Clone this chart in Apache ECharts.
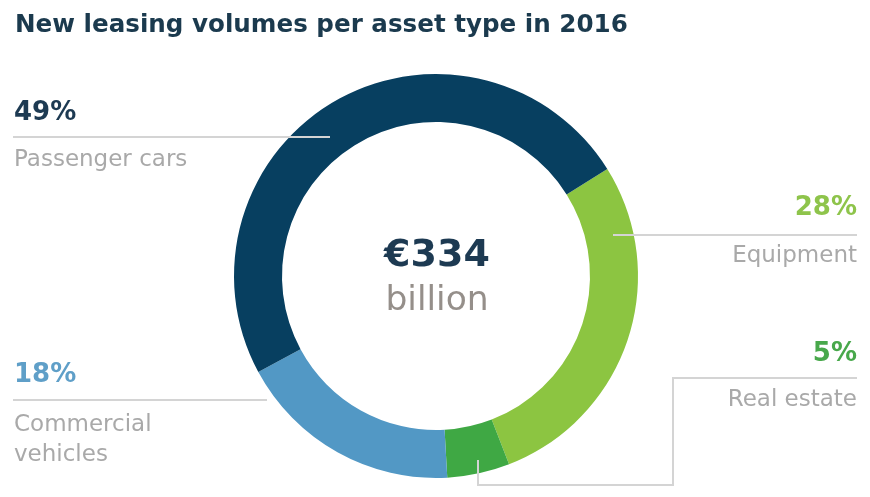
<!DOCTYPE html>
<html>
<head>
<meta charset="utf-8">
<script src="https://cdn.jsdelivr.net/npm/echarts@6/dist/echarts.min.js"></script>
<style>
html,body{margin:0;padding:0;background:#fff;}
#c{width:870px;height:497px;}
</style>
</head>
<body>
<div id="c"></div>
<script>
const titleText = 'New leasing volumes per asset type in 2016';
const categories = ['Equipment', 'Real estate', 'Commercial vehicles', 'Passenger cars'];
const shares = [28, 5, 18, 49];
const totalLabel = '€334';
const totalUnit = 'billion';

const colors = ['#8cc541', '#3fa844', '#5298c5', '#073f60'];
const pctColors = ['#8ec44b', '#48a84b', '#5f9fc8', '#1d3a52'];
const FONT = '"DejaVu Sans", "Noto Sans", sans-serif';
const gray = '#a9a9a9';
const lineColor = '#d4d4d4';

const chart = echarts.init(document.getElementById('c'), null, {renderer: 'canvas'});

function txt(x, y, text, size, weight, fill, align) {
  return {
    type: 'text', x: x, y: y, z: 110,
    style: {text: text, font: weight + ' ' + size + 'px ' + FONT, fill: fill,
            align: align, verticalAlign: 'middle'}
  };
}
function line(points) {
  return {
    type: 'polyline', z: 100,
    shape: {points: points},
    style: {stroke: lineColor, lineWidth: 2, fill: null}
  };
}

const commercialParts = categories[2].split(' ');

chart.setOption({
  animation: false,
  title: {
    text: titleText, left: 10, top: 8,
    textStyle: {fontFamily: FONT, fontWeight: 'bold', fontSize: 24.6, color: '#1b3a4e'}
  },
  series: [{
    type: 'pie',
    center: [436, 276],
    radius: [154, 202],
    startAngle: 32,
    clockwise: true,
    label: {show: false},
    labelLine: {show: false},
    silent: true,
    itemStyle: {borderWidth: 0},
    data: categories.map((c, i) => ({name: c, value: shares[i], itemStyle: {color: colors[i]}}))
  }],
  graphic: [
    line([[13, 137], [330, 137]]),
    line([[13, 400], [267, 400]]),
    line([[613, 235], [857, 235]]),
    line([[478, 460], [478, 485], [673, 485], [673, 378], [857, 378]]),
    txt(14, 113, shares[3] + '%', 26, 'bold', pctColors[3], 'left'),
    txt(14, 160, categories[3], 23, 'normal', gray, 'left'),
    txt(14, 375, shares[2] + '%', 26, 'bold', pctColors[2], 'left'),
    txt(14, 425, commercialParts[0], 23, 'normal', gray, 'left'),
    txt(14, 455, commercialParts[1], 23, 'normal', gray, 'left'),
    txt(857, 208, shares[0] + '%', 26, 'bold', pctColors[0], 'right'),
    txt(857, 256, categories[0], 23, 'normal', gray, 'right'),
    txt(857, 354, shares[1] + '%', 26, 'bold', pctColors[1], 'right'),
    txt(857, 400, categories[1], 23, 'normal', gray, 'right'),
    txt(437, 256, totalLabel, 38, 'bold', '#1d3a52', 'center'),
    txt(437, 301, totalUnit, 34.5, 'normal', '#958f8a', 'center')
  ]
});
</script>
</body>
</html>
